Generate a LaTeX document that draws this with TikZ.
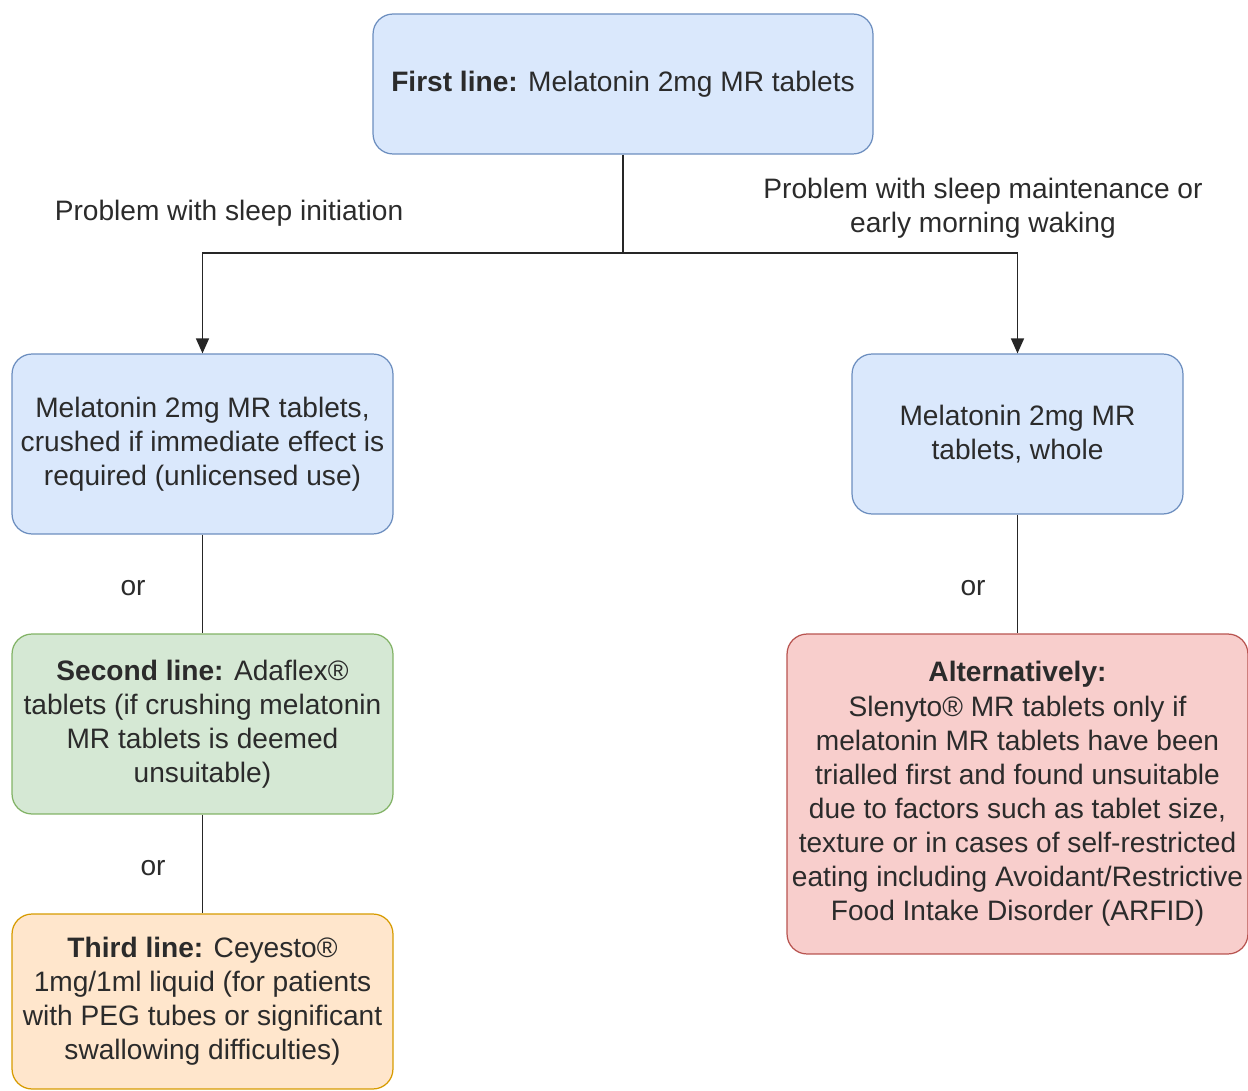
\documentclass[tikz,border=0pt]{standalone}
\usepackage{fontspec}
\setmainfont{Liberation Sans}
\usetikzlibrary{arrows.meta}
\definecolor{blueFill}{HTML}{DAE8FC}
\definecolor{blueLine}{HTML}{6C8EBF}
\definecolor{greenFill}{HTML}{D5E8D4}
\definecolor{greenLine}{HTML}{82B366}
\definecolor{orangeFill}{HTML}{FFE6CC}
\definecolor{orangeLine}{HTML}{D79B00}
\definecolor{redFill}{HTML}{F8CECC}
\definecolor{redLine}{HTML}{B85450}
\definecolor{inkGray}{HTML}{2B2B2B}
\tikzset{
  box/.style={draw, rounded corners=0.4cm, align=center, inner sep=0pt,
    line width=0.7pt, text=inkGray, font=\fontsize{16}{19.4}\selectfont},
  blueBox/.style={box, fill=blueFill, draw=blueLine},
  greenBox/.style={box, fill=greenFill, draw=greenLine},
  orangeBox/.style={box, fill=orangeFill, draw=orangeLine},
  redBox/.style={box, fill=redFill, draw=redLine},
  caption/.style={align=center, inner sep=0pt, text=inkGray,
    font=\fontsize{16}{19.4}\selectfont},
  link/.style={draw=black!85, line width=0.9pt},
  arrowlink/.style={link, -{Triangle[length=0.3cm,width=0.26cm]}}
}

\begin{document}
\begin{tikzpicture}[x=0.02cm, y=-0.02cm]
    \useasboundingbox (0,0) rectangle (1248,1091);

    \node[blueBox, minimum width=10cm, minimum height=2.8cm] (first) at (623,84)
        {\textbf{First line:} Melatonin 2mg MR tablets};
    \node[blueBox, minimum width=7.62cm, minimum height=3.6cm] (crushed) at (202.5,444)
        {Melatonin 2mg MR tablets,\\crushed if immediate effect is\\required (unlicensed use)};
    \node[blueBox, minimum width=6.62cm, minimum height=3.2cm] (whole) at (1017.5,434)
        {Melatonin 2mg MR\\tablets, whole};
    \node[greenBox, minimum width=7.62cm, minimum height=3.6cm] (second) at (202.5,724)
        {\textbf{Second line:} Adaflex®\\tablets (if crushing melatonin\\MR tablets is deemed\\unsuitable)};
    \node[orangeBox, minimum width=7.62cm, minimum height=3.5cm] (third) at (202.5,1001.5)
        {\textbf{Third line:} Ceyesto®\\1mg/1ml liquid (for patients\\with PEG tubes or significant\\swallowing difficulties)};
    \node[redBox, minimum width=9.22cm, minimum height=6.4cm] (alt) at (1017.5,794)
        {\textbf{Alternatively:}\\Slenyto® MR tablets only if\\melatonin MR tablets have been\\trialled first and found unsuitable\\due to factors such as tablet size,\\texture or in cases of self-restricted\\eating including Avoidant/Restrictive\\Food Intake Disorder (ARFID)};

    \coordinate (split) at (623,253);

    \draw[link] (first.south) -- (split);
    \draw[arrowlink] (split) -| (crushed.north);
    \draw[arrowlink] (split) -| (whole.north);
    \draw[link] (crushed.south) -- (second.north);
    \draw[link] (second.south) -- (third.north);
    \draw[link] (whole.south) -- (alt.north);

    \node[caption] (initiation) at (229,213) {Problem with sleep initiation};
    \node[caption] (maintenance) at (983,208) {Problem with sleep maintenance or\\early morning waking};
    \node[caption] (orA) at (133,588) {or};
    \node[caption] (orB) at (153,868) {or};
    \node[caption] (orC) at (973,588) {or};

\end{tikzpicture}
\end{document}
